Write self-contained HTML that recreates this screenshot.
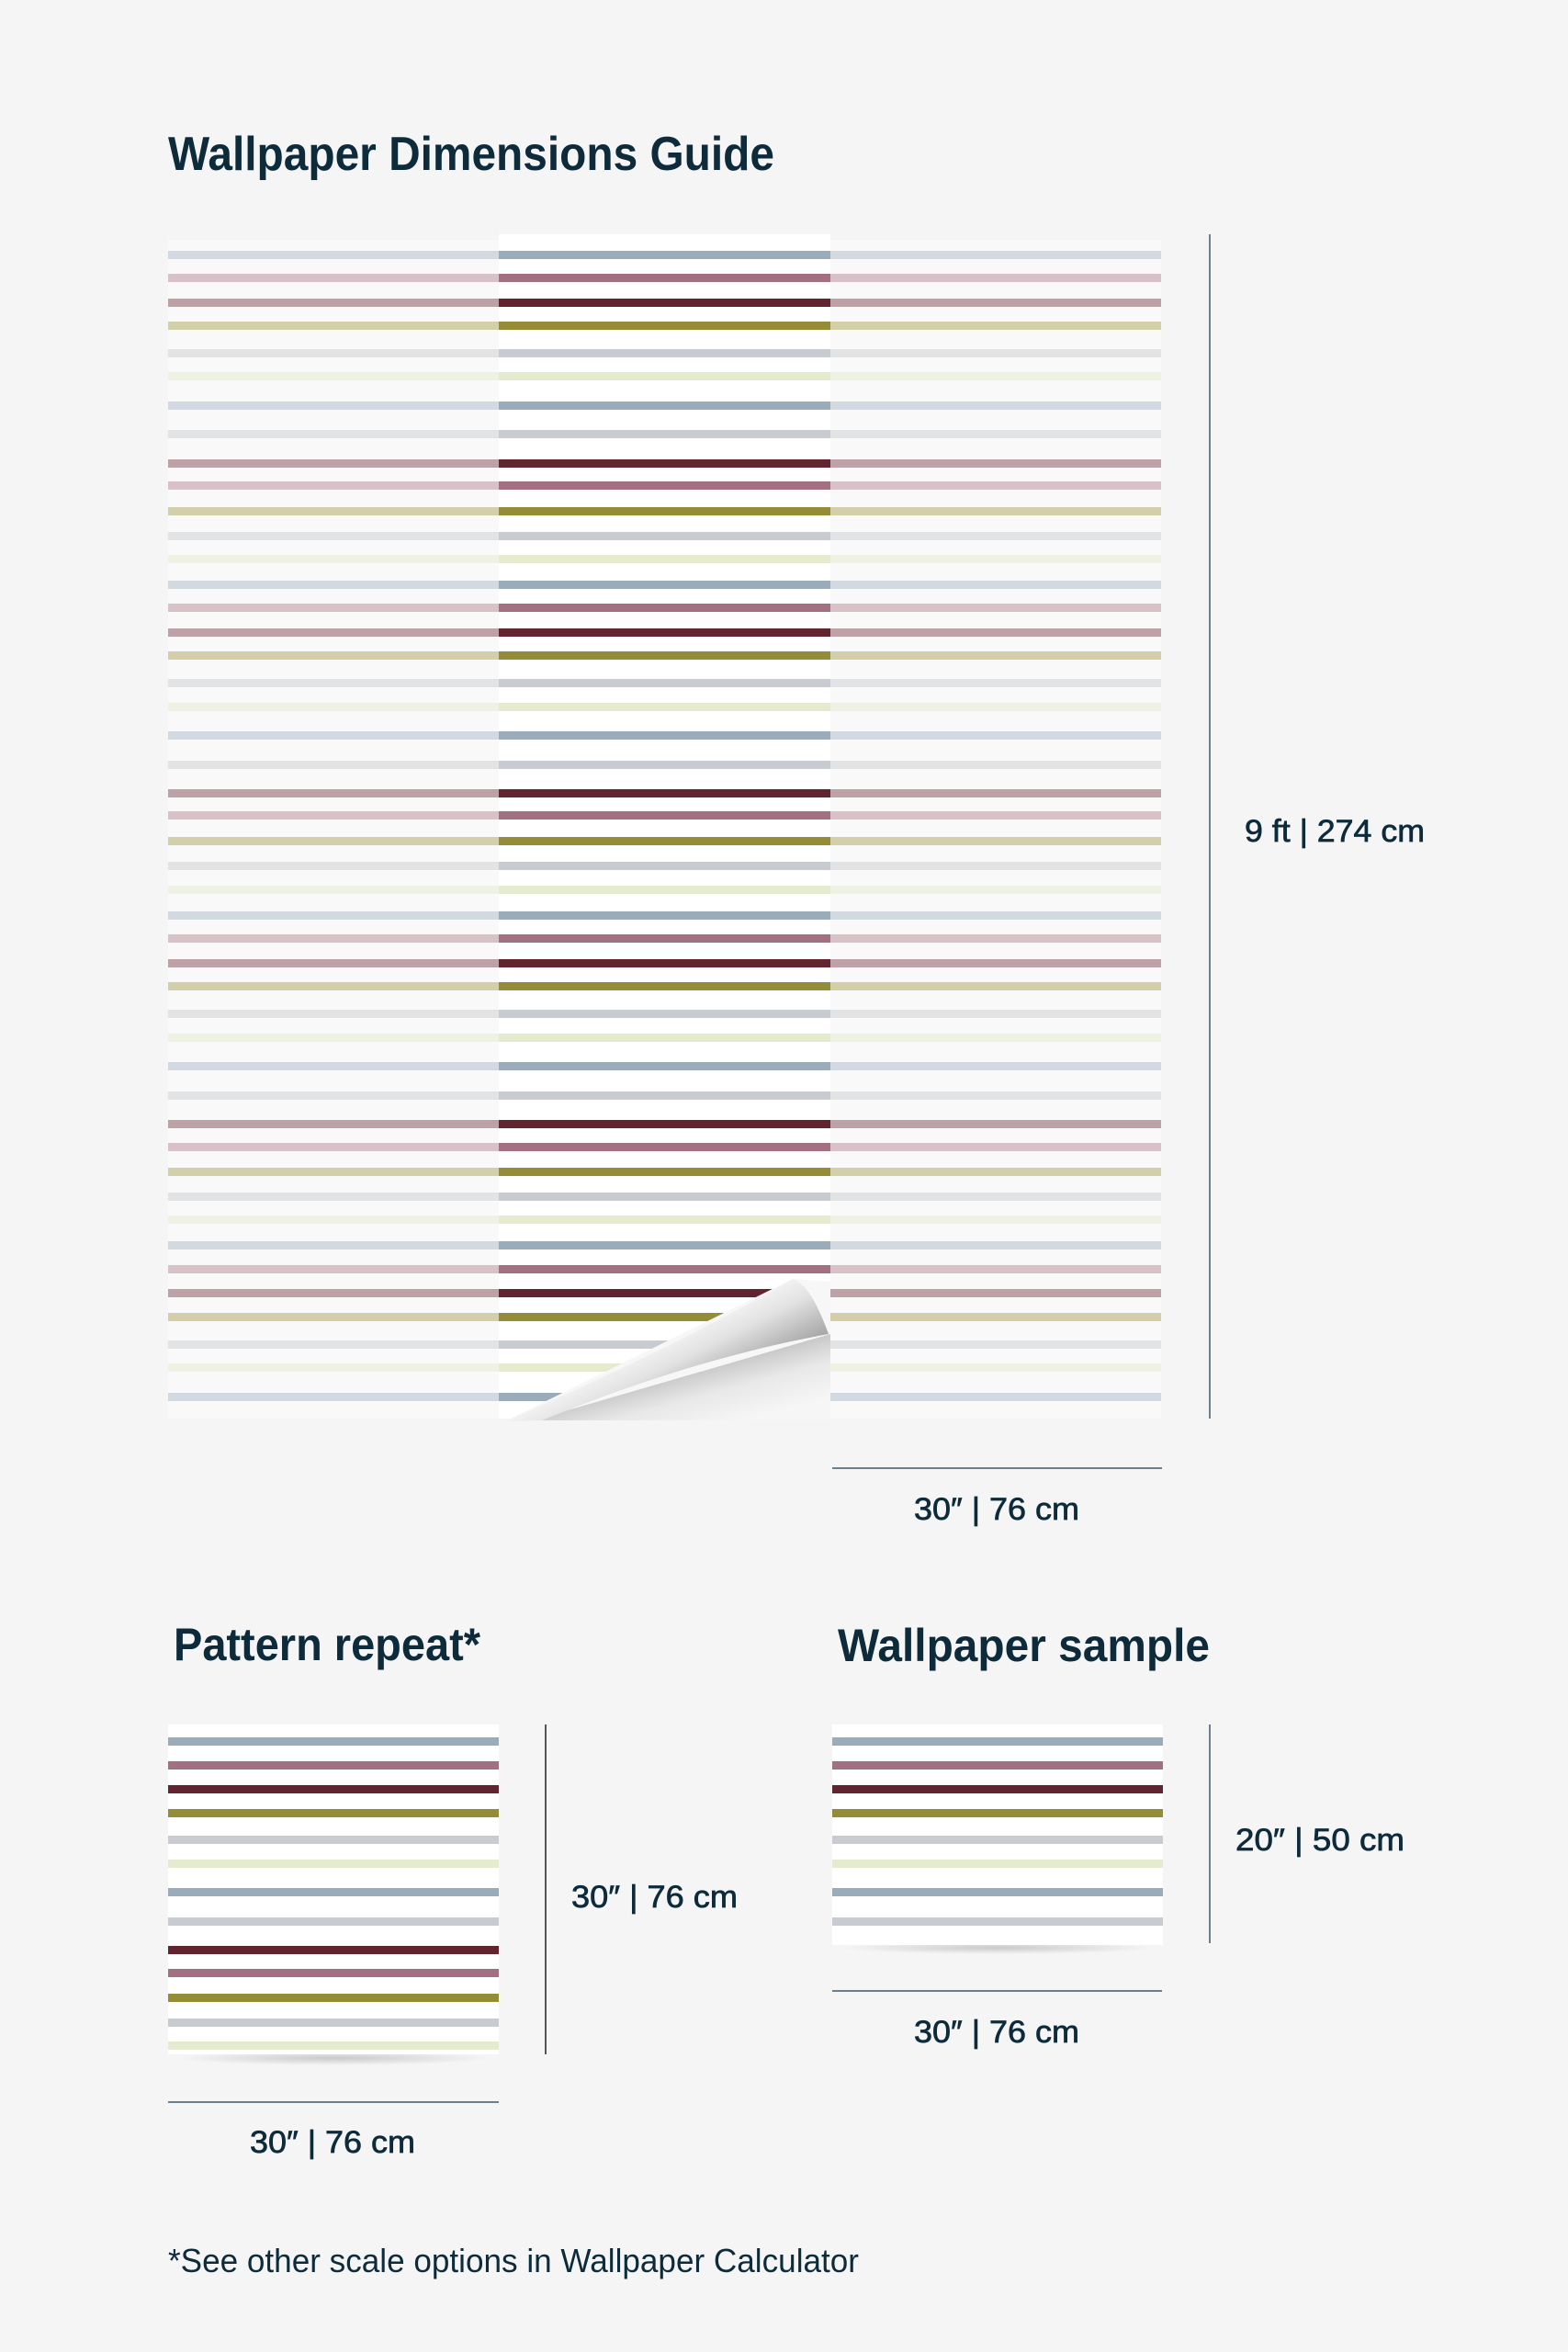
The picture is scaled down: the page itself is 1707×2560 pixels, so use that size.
<!DOCTYPE html>
<html><head><meta charset="utf-8"><style>
html,body{margin:0;padding:0;background:#f5f5f5;}
svg{display:block;}
text{font-family:"Liberation Sans",sans-serif;fill:#0d2b3a;}
.d{stroke:#0d2b3a;stroke-width:0.7;}
</style></head><body>
<svg width="1707" height="2560" viewBox="0 0 1707 2560" xmlns="http://www.w3.org/2000/svg">
<defs>
<linearGradient id="flap" gradientUnits="userSpaceOnUse" x1="760" y1="1420" x2="800" y2="1500">
<stop offset="0" stop-color="#ffffff"/><stop offset="0.5" stop-color="#e2e2e2"/><stop offset="1" stop-color="#a8a8a8"/>
</linearGradient>
<linearGradient id="rev" gradientUnits="userSpaceOnUse" x1="800" y1="1470" x2="820" y2="1544">
<stop offset="0" stop-color="#bdbdbd"/><stop offset="0.5" stop-color="#e8e8e8"/><stop offset="1" stop-color="#f6f6f6"/>
</linearGradient>
<radialGradient id="sh" cx="0.5" cy="0.5" r="0.5"><stop offset="0" stop-color="#000" stop-opacity="0.18"/><stop offset="1" stop-color="#000" stop-opacity="0"/></radialGradient>
</defs>
<rect width="1707" height="2560" fill="#f5f5f5"/>

<text x="183" y="185" font-size="52" font-weight="bold" textLength="660" lengthAdjust="spacingAndGlyphs">Wallpaper Dimensions Guide</text>

<rect x="183" y="261" width="360" height="1283" fill="#f9f9f9"/>
<rect x="904" y="261" width="360" height="1283" fill="#f9f9f9"/>
<rect x="543" y="255" width="361" height="1289" fill="#ffffff"/>

<g id="stripesMain">
<rect x="183" y="273" width="360" height="9" fill="#d3d9e0"/><rect x="543" y="273" width="361" height="9" fill="#9aabb9"/><rect x="904" y="273" width="360" height="9" fill="#d3d9e0"/>
<rect x="183" y="298" width="360" height="9" fill="#d9c1c8"/><rect x="543" y="298" width="361" height="9" fill="#a27080"/><rect x="904" y="298" width="360" height="9" fill="#d9c1c8"/>
<rect x="183" y="325" width="360" height="9" fill="#bea1a6"/><rect x="543" y="325" width="361" height="9" fill="#62252f"/><rect x="904" y="325" width="360" height="9" fill="#bea1a6"/>
<rect x="183" y="350" width="360" height="9" fill="#d3cfa8"/><rect x="543" y="350" width="361" height="9" fill="#958c37"/><rect x="904" y="350" width="360" height="9" fill="#d3cfa8"/>
<rect x="183" y="380" width="360" height="9" fill="#e1e3e5"/><rect x="543" y="380" width="361" height="9" fill="#c8ccd0"/><rect x="904" y="380" width="360" height="9" fill="#e1e3e5"/>
<rect x="183" y="405" width="360" height="9" fill="#eef2e2"/><rect x="543" y="405" width="361" height="9" fill="#e5ebcf"/><rect x="904" y="405" width="360" height="9" fill="#eef2e2"/>
<rect x="183" y="437" width="360" height="9" fill="#d3d9e0"/><rect x="543" y="437" width="361" height="9" fill="#9aabb9"/><rect x="904" y="437" width="360" height="9" fill="#d3d9e0"/>
<rect x="183" y="468" width="360" height="9" fill="#e1e3e5"/><rect x="543" y="468" width="361" height="9" fill="#c8ccd0"/><rect x="904" y="468" width="360" height="9" fill="#e1e3e5"/>
<rect x="183" y="500" width="360" height="9" fill="#bea1a6"/><rect x="543" y="500" width="361" height="9" fill="#62252f"/><rect x="904" y="500" width="360" height="9" fill="#bea1a6"/>
<rect x="183" y="524" width="360" height="9" fill="#d9c1c8"/><rect x="543" y="524" width="361" height="9" fill="#a27080"/><rect x="904" y="524" width="360" height="9" fill="#d9c1c8"/>
<rect x="183" y="552" width="360" height="9" fill="#d3cfa8"/><rect x="543" y="552" width="361" height="9" fill="#958c37"/><rect x="904" y="552" width="360" height="9" fill="#d3cfa8"/>
<rect x="183" y="579" width="360" height="9" fill="#e1e3e5"/><rect x="543" y="579" width="361" height="9" fill="#c8ccd0"/><rect x="904" y="579" width="360" height="9" fill="#e1e3e5"/>
<rect x="183" y="604" width="360" height="9" fill="#eef2e2"/><rect x="543" y="604" width="361" height="9" fill="#e5ebcf"/><rect x="904" y="604" width="360" height="9" fill="#eef2e2"/>
<rect x="183" y="632" width="360" height="9" fill="#d3d9e0"/><rect x="543" y="632" width="361" height="9" fill="#9aabb9"/><rect x="904" y="632" width="360" height="9" fill="#d3d9e0"/>
<rect x="183" y="657" width="360" height="9" fill="#d9c1c8"/><rect x="543" y="657" width="361" height="9" fill="#a27080"/><rect x="904" y="657" width="360" height="9" fill="#d9c1c8"/>
<rect x="183" y="684" width="360" height="9" fill="#bea1a6"/><rect x="543" y="684" width="361" height="9" fill="#62252f"/><rect x="904" y="684" width="360" height="9" fill="#bea1a6"/>
<rect x="183" y="709" width="360" height="9" fill="#d3cfa8"/><rect x="543" y="709" width="361" height="9" fill="#958c37"/><rect x="904" y="709" width="360" height="9" fill="#d3cfa8"/>
<rect x="183" y="739" width="360" height="9" fill="#e1e3e5"/><rect x="543" y="739" width="361" height="9" fill="#c8ccd0"/><rect x="904" y="739" width="360" height="9" fill="#e1e3e5"/>
<rect x="183" y="765" width="360" height="9" fill="#eef2e2"/><rect x="543" y="765" width="361" height="9" fill="#e5ebcf"/><rect x="904" y="765" width="360" height="9" fill="#eef2e2"/>
<rect x="183" y="796" width="360" height="9" fill="#d3d9e0"/><rect x="543" y="796" width="361" height="9" fill="#9aabb9"/><rect x="904" y="796" width="360" height="9" fill="#d3d9e0"/>
<rect x="183" y="828" width="360" height="9" fill="#e1e3e5"/><rect x="543" y="828" width="361" height="9" fill="#c8ccd0"/><rect x="904" y="828" width="360" height="9" fill="#e1e3e5"/>
<rect x="183" y="859" width="360" height="9" fill="#bea1a6"/><rect x="543" y="859" width="361" height="9" fill="#62252f"/><rect x="904" y="859" width="360" height="9" fill="#bea1a6"/>
<rect x="183" y="883" width="360" height="9" fill="#d9c1c8"/><rect x="543" y="883" width="361" height="9" fill="#a27080"/><rect x="904" y="883" width="360" height="9" fill="#d9c1c8"/>
<rect x="183" y="911" width="360" height="9" fill="#d3cfa8"/><rect x="543" y="911" width="361" height="9" fill="#958c37"/><rect x="904" y="911" width="360" height="9" fill="#d3cfa8"/>
<rect x="183" y="938" width="360" height="9" fill="#e1e3e5"/><rect x="543" y="938" width="361" height="9" fill="#c8ccd0"/><rect x="904" y="938" width="360" height="9" fill="#e1e3e5"/>
<rect x="183" y="964" width="360" height="9" fill="#eef2e2"/><rect x="543" y="964" width="361" height="9" fill="#e5ebcf"/><rect x="904" y="964" width="360" height="9" fill="#eef2e2"/>
<rect x="183" y="992" width="360" height="9" fill="#d3d9e0"/><rect x="543" y="992" width="361" height="9" fill="#9aabb9"/><rect x="904" y="992" width="360" height="9" fill="#d3d9e0"/>
<rect x="183" y="1017" width="360" height="9" fill="#d9c1c8"/><rect x="543" y="1017" width="361" height="9" fill="#a27080"/><rect x="904" y="1017" width="360" height="9" fill="#d9c1c8"/>
<rect x="183" y="1044" width="360" height="9" fill="#bea1a6"/><rect x="543" y="1044" width="361" height="9" fill="#62252f"/><rect x="904" y="1044" width="360" height="9" fill="#bea1a6"/>
<rect x="183" y="1069" width="360" height="9" fill="#d3cfa8"/><rect x="543" y="1069" width="361" height="9" fill="#958c37"/><rect x="904" y="1069" width="360" height="9" fill="#d3cfa8"/>
<rect x="183" y="1099" width="360" height="9" fill="#e1e3e5"/><rect x="543" y="1099" width="361" height="9" fill="#c8ccd0"/><rect x="904" y="1099" width="360" height="9" fill="#e1e3e5"/>
<rect x="183" y="1125" width="360" height="9" fill="#eef2e2"/><rect x="543" y="1125" width="361" height="9" fill="#e5ebcf"/><rect x="904" y="1125" width="360" height="9" fill="#eef2e2"/>
<rect x="183" y="1156" width="360" height="9" fill="#d3d9e0"/><rect x="543" y="1156" width="361" height="9" fill="#9aabb9"/><rect x="904" y="1156" width="360" height="9" fill="#d3d9e0"/>
<rect x="183" y="1188" width="360" height="9" fill="#e1e3e5"/><rect x="543" y="1188" width="361" height="9" fill="#c8ccd0"/><rect x="904" y="1188" width="360" height="9" fill="#e1e3e5"/>
<rect x="183" y="1219" width="360" height="9" fill="#bea1a6"/><rect x="543" y="1219" width="361" height="9" fill="#62252f"/><rect x="904" y="1219" width="360" height="9" fill="#bea1a6"/>
<rect x="183" y="1244" width="360" height="9" fill="#d9c1c8"/><rect x="543" y="1244" width="361" height="9" fill="#a27080"/><rect x="904" y="1244" width="360" height="9" fill="#d9c1c8"/>
<rect x="183" y="1271" width="360" height="9" fill="#d3cfa8"/><rect x="543" y="1271" width="361" height="9" fill="#958c37"/><rect x="904" y="1271" width="360" height="9" fill="#d3cfa8"/>
<rect x="183" y="1298" width="360" height="9" fill="#e1e3e5"/><rect x="543" y="1298" width="361" height="9" fill="#c8ccd0"/><rect x="904" y="1298" width="360" height="9" fill="#e1e3e5"/>
<rect x="183" y="1323" width="360" height="9" fill="#eef2e2"/><rect x="543" y="1323" width="361" height="9" fill="#e5ebcf"/><rect x="904" y="1323" width="360" height="9" fill="#eef2e2"/>
<rect x="183" y="1351" width="360" height="9" fill="#d3d9e0"/><rect x="543" y="1351" width="361" height="9" fill="#9aabb9"/><rect x="904" y="1351" width="360" height="9" fill="#d3d9e0"/>
<rect x="183" y="1377" width="360" height="9" fill="#d9c1c8"/><rect x="543" y="1377" width="361" height="9" fill="#a27080"/><rect x="904" y="1377" width="360" height="9" fill="#d9c1c8"/>
<rect x="183" y="1403" width="360" height="9" fill="#bea1a6"/><rect x="543" y="1403" width="361" height="9" fill="#62252f"/><rect x="904" y="1403" width="360" height="9" fill="#bea1a6"/>
<rect x="183" y="1429" width="360" height="9" fill="#d3cfa8"/><rect x="543" y="1429" width="361" height="9" fill="#958c37"/><rect x="904" y="1429" width="360" height="9" fill="#d3cfa8"/>
<rect x="183" y="1459" width="360" height="9" fill="#e1e3e5"/><rect x="543" y="1459" width="361" height="9" fill="#c8ccd0"/><rect x="904" y="1459" width="360" height="9" fill="#e1e3e5"/>
<rect x="183" y="1484" width="360" height="9" fill="#eef2e2"/><rect x="543" y="1484" width="361" height="9" fill="#e5ebcf"/><rect x="904" y="1484" width="360" height="9" fill="#eef2e2"/>
<rect x="183" y="1516" width="360" height="9" fill="#d3d9e0"/><rect x="543" y="1516" width="361" height="9" fill="#9aabb9"/><rect x="904" y="1516" width="360" height="9" fill="#d3d9e0"/>
</g>

<!-- curl -->
<polygon points="550,1547 863,1392 904,1395 904,1546 543,1546" fill="#f7f7f7"/>
<polygon points="580,1546 904,1452 904,1546" fill="url(#rev)"/>
<path d="M550,1547 C680,1490 790,1435 863,1392 C880,1398 892,1425 902,1452 C800,1470 690,1505 590,1546 Z" fill="url(#flap)"/>

<line x1="1317" y1="255" x2="1317" y2="1544" stroke="#6b7f8c" stroke-width="2"/>
<text class="d" x="1355" y="916" font-size="34" textLength="196" lengthAdjust="spacingAndGlyphs">9 ft | 274 cm</text>
<line x1="906" y1="1598" x2="1265" y2="1598" stroke="#6b7f8c" stroke-width="2"/>
<text class="d" x="995" y="1654" font-size="34" textLength="180" lengthAdjust="spacingAndGlyphs">30″ | 76 cm</text>

<text x="189" y="1807" font-size="50" font-weight="bold" textLength="334" lengthAdjust="spacingAndGlyphs">Pattern repeat*</text>
<text x="912" y="1808" font-size="50" font-weight="bold" textLength="405" lengthAdjust="spacingAndGlyphs">Wallpaper sample</text>

<ellipse cx="363" cy="2240" rx="170" ry="8" fill="url(#sh)"/>
<rect x="183" y="1877" width="360" height="359" fill="#ffffff"/>
<line x1="594" y1="1877" x2="594" y2="2236" stroke="#555" stroke-width="2"/>
<text class="d" x="622" y="2076" font-size="34" textLength="181" lengthAdjust="spacingAndGlyphs">30″ | 76 cm</text>
<line x1="183" y1="2288" x2="543" y2="2288" stroke="#6b7f8c" stroke-width="2"/>
<text class="d" x="272" y="2343" font-size="34" textLength="180" lengthAdjust="spacingAndGlyphs">30″ | 76 cm</text>

<ellipse cx="1086" cy="2120" rx="170" ry="7" fill="url(#sh)"/>
<rect x="906" y="1877" width="360" height="240" fill="#ffffff"/>
<line x1="1317" y1="1877" x2="1317" y2="2115" stroke="#6b7f8c" stroke-width="2"/>
<text class="d" x="1345" y="2014" font-size="34" textLength="184" lengthAdjust="spacingAndGlyphs">20″ | 50 cm</text>
<line x1="906" y1="2167" x2="1265" y2="2167" stroke="#6b7f8c" stroke-width="2"/>
<text class="d" x="995" y="2223" font-size="34" textLength="180" lengthAdjust="spacingAndGlyphs">30″ | 76 cm</text>

<text x="183" y="2473" font-size="36" textLength="752" lengthAdjust="spacingAndGlyphs">*See other scale options in Wallpaper Calculator</text>

<g>
<rect x="183" y="1891" width="360" height="9" fill="#9aabb9"/>
<rect x="183" y="1917" width="360" height="9" fill="#a27080"/>
<rect x="183" y="1943" width="360" height="9" fill="#62252f"/>
<rect x="183" y="1969" width="360" height="9" fill="#958c37"/>
<rect x="183" y="1998" width="360" height="9" fill="#c8ccd0"/>
<rect x="183" y="2024" width="360" height="9" fill="#e5ebcf"/>
<rect x="183" y="2055" width="360" height="9" fill="#9aabb9"/>
<rect x="183" y="2087" width="360" height="9" fill="#c8ccd0"/>
<rect x="183" y="2118" width="360" height="9" fill="#62252f"/>
<rect x="183" y="2143" width="360" height="9" fill="#a27080"/>
<rect x="183" y="2170" width="360" height="9" fill="#958c37"/>
<rect x="183" y="2197" width="360" height="9" fill="#c8ccd0"/>
<rect x="183" y="2222" width="360" height="9" fill="#e5ebcf"/>
</g>
<g>
<rect x="906" y="1891" width="360" height="9" fill="#9aabb9"/>
<rect x="906" y="1917" width="360" height="9" fill="#a27080"/>
<rect x="906" y="1943" width="360" height="9" fill="#62252f"/>
<rect x="906" y="1969" width="360" height="9" fill="#958c37"/>
<rect x="906" y="1998" width="360" height="9" fill="#c8ccd0"/>
<rect x="906" y="2024" width="360" height="9" fill="#e5ebcf"/>
<rect x="906" y="2055" width="360" height="9" fill="#9aabb9"/>
<rect x="906" y="2087" width="360" height="9" fill="#c8ccd0"/>
</g>
</svg>
</body></html>
